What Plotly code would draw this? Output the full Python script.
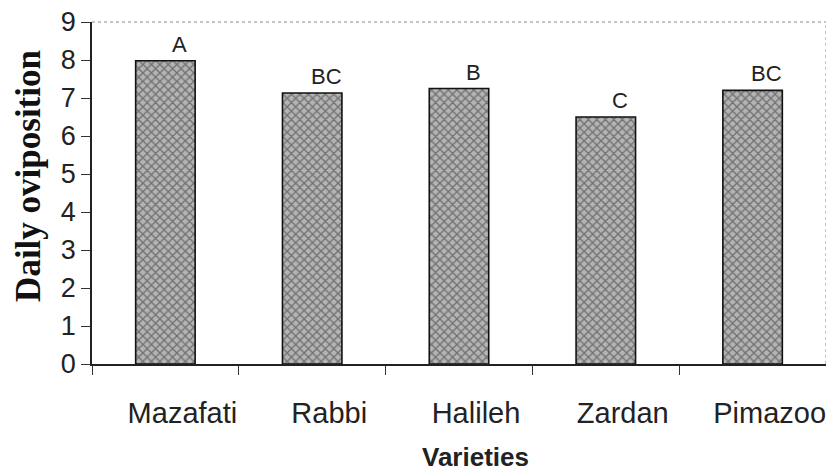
import plotly.graph_objects as go

varieties = ["Mazafati", "Rabbi", "Halileh", "Zardan", "Pimazoo"]
oviposition = [7.98, 7.13, 7.25, 6.50, 7.20]
letters = ["A", "BC", "B", "C", "BC"]
y_ticks = [0, 1, 2, 3, 4, 5, 6, 7, 8, 9]

fig = go.Figure()
fig.add_trace(go.Bar(
    x=varieties,
    y=oviposition,
    width=0.405,
    marker=dict(
        color="#a8a8a8",
        line=dict(color="#111111", width=1.6),
        pattern=dict(shape="x", size=6, solidity=0.4,
                     fgcolor="#2e2e2e", bgcolor="#b4b4b4", fillmode="overlay"),
    ),
    showlegend=False,
    hoverinfo="x+y",
))

for v, val, lt in zip(varieties, oviposition, letters):
    fig.add_annotation(x=v, y=val, text=lt, showarrow=False,
                       xanchor="center", yanchor="bottom", xshift=14, yshift=2,
                       font=dict(family="Liberation Sans, Arial", size=22, color="#222222"))

# y-axis title
fig.add_annotation(xref="paper", yref="paper", x=0, y=0.55, xshift=-63,
                   text="<b>Daily oviposition</b>", textangle=-90, showarrow=False,
                   xanchor="center", yanchor="middle",
                   font=dict(family="Liberation Serif, Times New Roman", size=35, color="#111111"))
# x-axis title
fig.add_annotation(xref="paper", yref="paper", x=0.522, y=0, yshift=-110,
                   text="<b>Varieties</b>", showarrow=False,
                   xanchor="center", yanchor="bottom",
                   font=dict(family="Liberation Sans, Arial", size=26, color="#222222"))

# faint top and right frame
fig.add_shape(type="line", xref="paper", yref="paper", x0=0, x1=1, y0=1, y1=1,
              line=dict(color="#888888", width=1, dash="dot"))
fig.add_shape(type="line", xref="paper", yref="paper", x0=1, x1=1, y0=0, y1=1,
              line=dict(color="#888888", width=1, dash="dot"))

# the page body adds an 8px offset, so the figure is sized 826x467
fig.update_layout(
    width=826, height=467,
    margin=dict(l=84, r=8, t=14, b=111, autoexpand=False),
    paper_bgcolor="white", plot_bgcolor="white",
    bargap=0.595,
)
fig.update_xaxes(
    type="category", automargin=False,
    showline=True, linecolor="#222222", linewidth=1.5,
    ticks="outside", ticklen=9, tickcolor="#333333", tickwidth=1,
    tickson="boundaries",
    showgrid=False,
    ticklabelshift=17, ticklabelstandoff=22,
    ticklabeloverflow="allow",
    tickfont=dict(family="Liberation Sans, Arial", size=29, color="#222222"),
    range=[-0.5, 4.5],
)
fig.update_yaxes(
    range=[0, 9], tickvals=y_ticks, automargin=False,
    showline=True, linecolor="#222222", linewidth=1.5,
    ticks="outside", ticklen=9, tickcolor="#333333", tickwidth=1,
    showgrid=False, zeroline=False,
    ticklabeloverflow="allow",
    tickfont=dict(family="Liberation Sans, Arial", size=27, color="#222222"),
)

fig.write_html("out.html")
